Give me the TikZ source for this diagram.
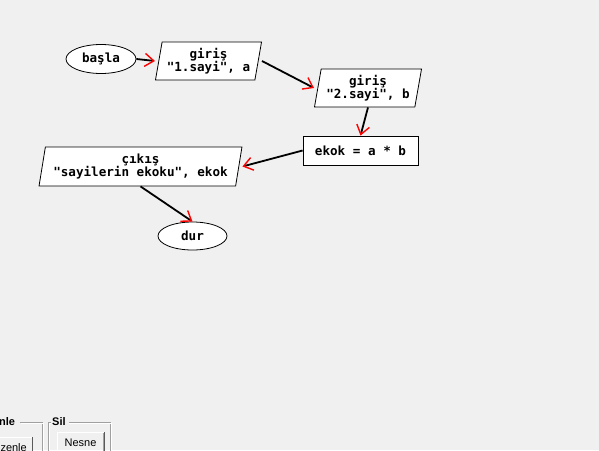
\documentclass[tikz,border=0pt]{standalone}
\usepackage{fontspec}
\newfontfamily\flowfont{DejaVu Sans Mono}
\newfontfamily\guifont{Liberation Sans}
\usetikzlibrary{shapes.geometric, arrows.meta, calc}
\definecolor{winbg}{HTML}{F0F0F0}
\definecolor{etch}{HTML}{A0A0A0}
\tikzset{
    chart/.style = {draw, fill=white, line width=.8pt, inner sep=0pt,
        font=\flowfont\bfseries\fontsize{12.6}{13}\selectfont, align=center},
    term/.style = {chart, ellipse},
    iobox/.style = {chart, trapezium, trapezium left angle=77,
        trapezium right angle=103, trapezium stretches=true},
    procbox/.style = {chart, rectangle},
    flow/.style = {line width=1.8pt,
        -{Straight Barb[color=red, length=9pt, width=13pt, line width=1.4pt]}},
    etched/.style = {draw=etch, line width=.8pt},
}

\begin{document}
\begin{tikzpicture}[x=1pt, y=-1pt]
\fill[winbg] (0,0) rectangle (599,450);
\useasboundingbox (0,0) rectangle (599,450);
\clip (0,0) rectangle (599,450);

\node[term, minimum width=70pt, minimum height=29pt] (basla) at (101,59) {başla};
\node[iobox, minimum width=107pt, minimum height=38pt] (giris1) at (208.5,61) {giriş\\"1.sayi", a};
\node[iobox, minimum width=108pt, minimum height=38pt] (giris2) at (368,88) {giriş\\"2.sayi", b};
\node[procbox, minimum width=115pt, minimum height=29pt] (ekok) at (360.5,150.5) {ekok = a * b};
\node[iobox, minimum width=203pt, minimum height=39pt] (cikis) at (140.5,166.5) {çıkış\\"sayilerin ekoku", ekok};
\node[term, minimum width=69pt, minimum height=28pt] (dur) at (192.5,236) {dur};

\draw[flow] (basla.east) -- (giris1.bottom left corner |- giris1.center);
\draw[flow] (giris1.top right corner |- giris1.center) -- (giris2.bottom left corner |- giris2.center);
\draw[flow] (giris2.center |- giris2.south) -- (ekok.north);
\draw[flow] (ekok.west) -- (cikis.top right corner |- cikis.center);
\draw[flow] (cikis.center |- cikis.south) -- (dur.north);

% group boxes
\draw[etched] (20,422) -- (42,422) -- (42,452);
\draw[white, line width=.8pt] (21,423) -- (43,423) -- (43,452);
\node[font=\guifont\bfseries\fontsize{11}{12}\selectfont, anchor=west, inner sep=0pt] (duzlbl) at (-1,422) {nle};
\draw[etched] (110,452) -- (110,422) -- (69,422) (51,422) -- (48,422) -- (48,452);
\draw[white, line width=.8pt] (111,452) -- (111,423) -- (69,423) (51,423) -- (49,423) -- (49,452);
\node[font=\guifont\bfseries\fontsize{11}{12}\selectfont, anchor=west, inner sep=0pt] (sillbl) at (52,422) {Sil};

% buttons
\fill[winbg] (-2,437) rectangle (32,452);
\draw[white, line width=.8pt] (-2,437.5) -- (31.5,437.5);
\draw[gray!70!black, line width=.8pt] (32,437) -- (32,452);
\node[font=\guifont\fontsize{11}{12}\selectfont, anchor=east, inner sep=0pt] (duzbtn) at (27,448) {zenle};
\draw[white, line width=.8pt] (57,452) -- (57,432) -- (104,432);
\draw[gray!70!black, line width=.8pt] (104,432) -- (104,452);
\draw[etch, line width=.8pt] (103,433) -- (103,452);
\node[font=\guifont\fontsize{11}{12}\selectfont, inner sep=0pt] (nesnebtn) at (80.5,443) {Nesne};
\end{tikzpicture}
\end{document}
